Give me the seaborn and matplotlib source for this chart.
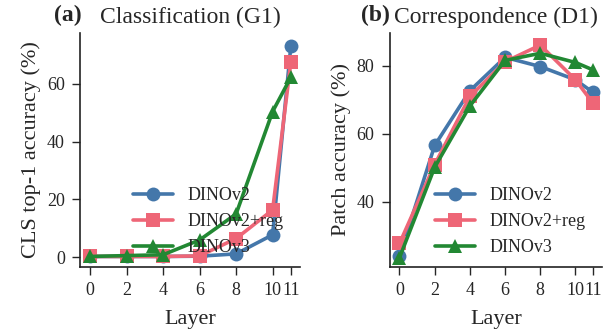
import matplotlib
matplotlib.use("Agg")
import matplotlib.pyplot as plt
import seaborn as sns
import pandas as pd

# layers probed
layers = [0, 2, 4, 6, 8, 10, 11]
models = ["DINOv2", "DINOv2+reg", "DINOv3"]

# (a) CLS top-1 accuracy (%)
cls_dinov2 = [0.3, 0.3, 0.3, 0.4, 1.2, 7.8, 73.2]
cls_dinov2_reg = [0.3, 0.3, 0.3, 0.5, 6.5, 16.4, 67.6]
cls_dinov3 = [0.3, 0.6, 0.9, 6.0, 15.0, 50.4, 62.3]

# (b) patch correspondence accuracy (%)
patch_dinov2 = [24.1, 56.6, 72.7, 82.5, 79.8, 75.9, 72.2]
patch_dinov2_reg = [27.8, 51.0, 71.0, 81.2, 86.1, 75.9, 69.0]
patch_dinov3 = [23.6, 50.2, 68.2, 81.6, 83.7, 81.0, 78.8]

colors = ["#4477AA", "#EE6677", "#228833"]
markers = ["o", "s", "^"]


def long_form(series):
    rows = []
    for name, vals in zip(models, series):
        for l, v in zip(layers, vals):
            rows.append({"Layer": l, "acc": v, "model": name})
    return pd.DataFrame(rows)


sns.set_theme(style="ticks")
plt.rcParams["font.family"] = ["Liberation Serif", "DejaVu Serif"]

fig = plt.figure(figsize=(6.11, 3.32), dpi=100)
ax1 = fig.add_axes([0.131, 0.197, 0.360, 0.703])
ax2 = fig.add_axes([0.638, 0.197, 0.347, 0.703])

panels = [
    (ax1, long_form([cls_dinov2, cls_dinov2_reg, cls_dinov3]), "(a)", -0.057, "Classification (G1)",
     "CLS top-1 accuracy (%)", (-3.2, 77.5), [0, 20, 40, 60]),
    (ax2, long_form([patch_dinov2, patch_dinov2_reg, patch_dinov3]), "(b)", -0.068, "Correspondence (D1)",
     "Patch accuracy (%)", (21, 89.6), [40, 60, 80]),
]

for ax, df, tag, tag_x, title, ylabel, ylim, yticks in panels:
    sns.lineplot(data=df, x="Layer", y="acc", hue="model", style="model",
                 palette=colors, markers=markers, dashes=False, linewidth=2.6,
                 markersize=10, markeredgewidth=0, ax=ax)
    ax.set_xlim(-0.55, 11.5)
    ax.set_ylim(*ylim)
    ax.set_xticks(layers)
    ax.set_yticks(yticks)
    ax.tick_params(labelsize=13, length=6, width=1, pad=5)
    ax.set_xlabel("Layer", fontsize=16, labelpad=8)
    ax.set_ylabel(ylabel, fontsize=16, labelpad=4)
    ax.set_title(title, fontsize=17, pad=7)
    ax.text(tag_x, 1.032, tag, transform=ax.transAxes, fontsize=17,
            fontweight="bold", ha="center", va="bottom")
    for s in ["left", "bottom"]:
        ax.spines[s].set_linewidth(1.2)
        ax.spines[s].set_color("#222222")
    sns.despine(ax=ax)
    ax.legend(title=None, frameon=False, fontsize=13, loc="lower right",
              handlelength=2.2, handletextpad=0.8,
              bbox_to_anchor=(1.0, -0.025))

fig.savefig("out.png", dpi=100)
